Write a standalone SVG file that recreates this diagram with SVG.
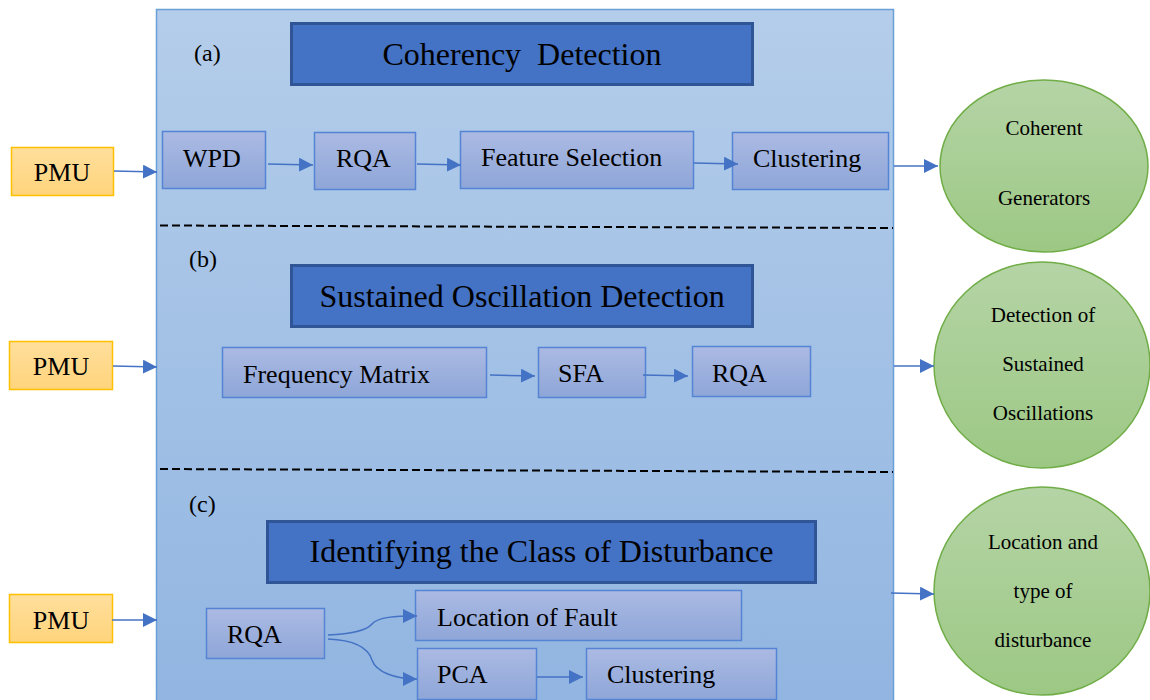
<svg xmlns="http://www.w3.org/2000/svg" width="1150" height="700" viewBox="0 0 1150 700" font-family="'Liberation Serif', serif">
  <defs>
    <linearGradient id="panelFill" x1="0" y1="0" x2="0" y2="1">
      <stop offset="0" stop-color="#b4cdea"/>
      <stop offset="1" stop-color="#91b5e1"/>
    </linearGradient>
    <linearGradient id="stepFill" x1="0" y1="0" x2="0" y2="1">
      <stop offset="0" stop-color="#abbae3"/>
      <stop offset="1" stop-color="#8ea6d8"/>
    </linearGradient>
    <linearGradient id="pmuFill" x1="0" y1="0" x2="0" y2="1">
      <stop offset="0" stop-color="#ffdf9c"/>
      <stop offset="1" stop-color="#ffd47c"/>
    </linearGradient>
    <linearGradient id="outFill" x1="0" y1="0" x2="0" y2="1">
      <stop offset="0" stop-color="#b5d4a6"/>
      <stop offset="1" stop-color="#9cc884"/>
    </linearGradient>
    <marker id="arrow" markerUnits="userSpaceOnUse" markerWidth="16" markerHeight="16" refX="14" refY="7" orient="auto">
      <path d="M0,0 L14,7 L0,14 z" fill="#4472c4"/>
    </marker>
    <style>
      text { fill: #000; white-space: pre; }
      .panel { fill: url(#panelFill); stroke: #6a9fd8; stroke-width: 1.5; }
      .divider { stroke: #000; stroke-width: 2; stroke-dasharray: 8 4; fill: none; }
      .tag { font-size: 24px; }
      .title { fill: #4472c4; stroke: #2f5597; stroke-width: 3; }
      .titleText { font-size: 32px; text-anchor: middle; }
      .step { fill: url(#stepFill); stroke: #5584d4; stroke-width: 1.5; }
      .stepText { font-size: 26px; }
      .pmu { fill: url(#pmuFill); stroke: #ffc000; stroke-width: 1.5; }
      .pmuText { font-size: 26px; text-anchor: middle; }
      .out { fill: url(#outFill); stroke: #70ad47; stroke-width: 1.5; }
      .outText { font-size: 21px; text-anchor: middle; }
      .conn { stroke: #4472c4; stroke-width: 1.5; fill: none; marker-end: url(#arrow); }
    </style>
  </defs>

  <!-- main processing panel with its three sections -->
  <g id="panel">
    <rect class="panel" x="156.5" y="9.5" width="737" height="700"/>
    <line class="divider" x1="160" y1="225.5" x2="893" y2="228"/>
    <line class="divider" x1="160" y1="469" x2="893" y2="472"/>
    <text class="tag" x="194" y="61">(a)</text>
    <text class="tag" x="189" y="267">(b)</text>
    <text class="tag" x="189" y="512">(c)</text>
  </g>

  <!-- section (a): coherency detection -->
  <g id="title-a">
    <rect class="title" x="291.5" y="23.5" width="461" height="61"/>
    <text class="titleText" x="522" y="65" xml:space="preserve">Coherency  Detection</text>
  </g>
  <g id="wpd">
    <rect class="step" x="162.5" y="131.5" width="103" height="57"/>
    <text class="stepText" x="183" y="167">WPD</text>
  </g>
  <g id="rqa-a">
    <rect class="step" x="314.5" y="132.5" width="101" height="57"/>
    <text class="stepText" x="336" y="167">RQA</text>
  </g>
  <g id="feature-selection">
    <rect class="step" x="460.5" y="131.5" width="233" height="57"/>
    <text class="stepText" x="481" y="166">Feature Selection</text>
  </g>
  <g id="clustering-a">
    <rect class="step" x="732.5" y="132.5" width="156" height="57"/>
    <text class="stepText" x="753" y="167">Clustering</text>
  </g>

  <!-- section (b): sustained oscillation detection -->
  <g id="title-b">
    <rect class="title" x="291.5" y="265.5" width="461" height="61"/>
    <text class="titleText" x="522" y="307">Sustained Oscillation Detection</text>
  </g>
  <g id="frequency-matrix">
    <rect class="step" x="222.5" y="347.5" width="264" height="50"/>
    <text class="stepText" x="243" y="383">Frequency Matrix</text>
  </g>
  <g id="sfa">
    <rect class="step" x="538.5" y="347.5" width="107" height="50"/>
    <text class="stepText" x="558" y="382">SFA</text>
  </g>
  <g id="rqa-b">
    <rect class="step" x="692.5" y="346.5" width="118" height="50"/>
    <text class="stepText" x="712" y="382">RQA</text>
  </g>

  <!-- section (c): disturbance classification -->
  <g id="title-c">
    <rect class="title" x="267.5" y="521.5" width="548" height="61"/>
    <text class="titleText" x="541.5" y="562">Identifying the Class of Disturbance</text>
  </g>
  <g id="rqa-c">
    <rect class="step" x="206.5" y="608.5" width="118" height="50"/>
    <text class="stepText" x="227" y="643">RQA</text>
  </g>
  <g id="location-of-fault">
    <rect class="step" x="415.5" y="590.5" width="326" height="50"/>
    <text class="stepText" x="437" y="626">Location of Fault</text>
  </g>
  <g id="pca">
    <rect class="step" x="417.5" y="648.5" width="119" height="51"/>
    <text class="stepText" x="437" y="683">PCA</text>
  </g>
  <g id="clustering-c">
    <rect class="step" x="586.5" y="648.5" width="190" height="51"/>
    <text class="stepText" x="607" y="683">Clustering</text>
  </g>

  <!-- measurement inputs -->
  <g id="pmu-a">
    <rect class="pmu" x="11.5" y="147.5" width="102" height="48"/>
    <text class="pmuText" x="62" y="181">PMU</text>
  </g>
  <g id="pmu-b">
    <rect class="pmu" x="9.5" y="341.5" width="103" height="48"/>
    <text class="pmuText" x="61" y="375">PMU</text>
  </g>
  <g id="pmu-c">
    <rect class="pmu" x="9.5" y="594.5" width="103" height="48"/>
    <text class="pmuText" x="61" y="629">PMU</text>
  </g>

  <!-- results -->
  <g id="out-a">
    <ellipse class="out" cx="1044" cy="166" rx="104" ry="86"/>
    <text class="outText" x="1044" y="135">Coherent</text>
    <text class="outText" x="1044" y="205">Generators</text>
  </g>
  <g id="out-b">
    <ellipse class="out" cx="1042" cy="365" rx="108" ry="103"/>
    <text class="outText" x="1043" y="322">Detection of</text>
    <text class="outText" x="1043" y="371">Sustained</text>
    <text class="outText" x="1043" y="420">Oscillations</text>
  </g>
  <g id="out-c">
    <ellipse class="out" cx="1042" cy="591" rx="108" ry="104"/>
    <text class="outText" x="1043" y="549">Location and</text>
    <text class="outText" x="1043" y="598">type of</text>
    <text class="outText" x="1043" y="647">disturbance</text>
  </g>

  <!-- connectors -->
  <g id="connectors">
    <line class="conn" x1="114" y1="171" x2="157" y2="172"/>
    <line class="conn" x1="268" y1="164" x2="313" y2="165"/>
    <line class="conn" x1="417" y1="164" x2="461" y2="165"/>
    <line class="conn" x1="694" y1="163" x2="738" y2="164"/>
    <line class="conn" x1="894" y1="166" x2="938" y2="166"/>

    <line class="conn" x1="113" y1="366" x2="157" y2="367"/>
    <line class="conn" x1="490" y1="375" x2="535" y2="376"/>
    <line class="conn" x1="643" y1="375" x2="688" y2="376"/>
    <line class="conn" x1="894" y1="366" x2="934" y2="366"/>

    <line class="conn" x1="112" y1="620" x2="157" y2="620"/>
    <path class="conn" d="M328,635 C352,634 366,631 372,624 C378,617 395,616 417,616"/>
    <path class="conn" d="M328,639 C352,640 368,647 372,660 C376,672 395,679 417,679"/>
    <line class="conn" x1="537" y1="677" x2="583" y2="677"/>
    <line class="conn" x1="891" y1="593" x2="934" y2="594"/>
  </g>
</svg>
